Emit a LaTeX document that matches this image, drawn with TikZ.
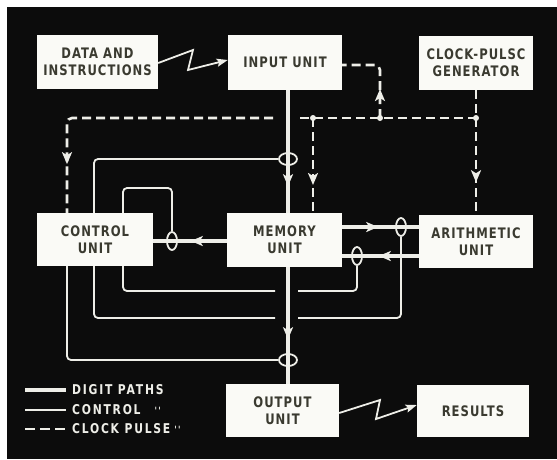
\documentclass[tikz,border=0pt]{standalone}
\usepackage{fontspec}
\newfontfamily\lbl{DejaVu Sans}[FakeStretch=0.8,LetterSpace=7]
\newfontfamily\lgd{DejaVu Sans}[FakeStretch=0.8,LetterSpace=13]
\usetikzlibrary{arrows.meta,decorations.markings,shapes.geometric}
\definecolor{bg}{RGB}{12,12,12}
\definecolor{ink}{RGB}{58,58,48}
\definecolor{paper}{RGB}{250,250,246}
\definecolor{wl}{RGB}{238,238,232}
\tikzset{
  unit/.style={fill=paper,text=ink,font=\lbl\bfseries\fontsize{14.5}{17}\selectfont,align=center,inner sep=0pt},
  digit/.style={draw=wl,line width=3.2pt},
  ctrl/.style={draw=wl,line width=1.8pt,rounded corners=4pt},
  clock/.style={draw=wl,line width=2.6pt,dash pattern=on 9pt off 5pt,rounded corners=5pt},
  loopc/.style={draw=wl,line width=1.8pt},
  tip/.style={postaction={decorate},decoration={markings,mark=at position #1 with {\arrow[wl]{Stealth[length=12pt,width=10pt,inset=3pt]}}}},
  legtext/.style={anchor=west,text=wl,font=\lgd\bfseries\fontsize{13.5}{15}\selectfont,inner sep=0pt},
  dot/.style={fill=wl,circle,inner sep=0pt,minimum size=6pt}
}
\begin{document}
\begin{tikzpicture}[x=1pt,y=-1pt]
\useasboundingbox (0,0) rectangle (557,459);
\fill[white] (0,0) rectangle (557,459);
\fill[bg] (7,7) rectangle (557,459);

% units
\node[unit,minimum width=121pt,minimum height=54pt] (data) at (97.5,62) {DATA AND\\INSTRUCTIONS};
\node[unit,minimum width=114pt,minimum height=55pt] (input) at (285,62.5) {INPUT UNIT};
\node[unit,minimum width=114pt,minimum height=54pt] (clock) at (476,63) {CLOCK-PULSC\\GENERATOR};
\node[unit,minimum width=116pt,minimum height=53pt] (control) at (95,239.5) {CONTROL\\UNIT};
\node[unit,minimum width=115pt,minimum height=54pt] (memory) at (284.5,240) {MEMORY\\UNIT};
\node[unit,minimum width=114pt,minimum height=53pt] (arith) at (476,241.5) {ARITHMETIC\\UNIT};
\node[unit,minimum width=113pt,minimum height=53pt] (output) at (282.5,410.5) {OUTPUT\\UNIT};
\node[unit,minimum width=112pt,minimum height=52pt] (results) at (473,411) {RESULTS};

% reference coordinates
\coordinate (dp) at (288,0);
\coordinate (j1) at (313,118);
\coordinate (j2) at (380,118);
\coordinate (j3) at (476,118);
\coordinate (cl) at (273,118);
\coordinate (cr) at (300,118);
\coordinate (ic) at (380,65);

% loops
\node[loopc,ellipse,minimum width=18pt,minimum height=12pt,inner sep=0pt] (L1) at (288,159) {};
\node[loopc,ellipse,minimum width=10pt,minimum height=18pt,inner sep=0pt] (L2) at (172,241) {};
\node[loopc,ellipse,minimum width=10pt,minimum height=18pt,inner sep=0pt] (L3) at (357,256) {};
\node[loopc,ellipse,minimum width=10pt,minimum height=18pt,inner sep=0pt] (L4) at (401,227) {};
\node[loopc,ellipse,minimum width=18pt,minimum height=12pt,inner sep=0pt] (L5) at (288,360) {};

% digit paths
\draw[digit,tip=96pt] (input.south -| dp) -- (memory.north -| dp);
\draw[digit,tip=72pt] (memory.south -| dp) -- (output.north -| dp);
\draw[digit,tip=36pt] (memory.east |- L4) -- (arith.west |- L4);
\draw[digit,tip=40pt] (arith.west |- L3) -- (memory.east |- L3);
\draw[digit,tip=36pt] (memory.west |- L2) -- (control.east |- L2);

% clock pulse paths
\draw[clock,tip=250pt] (cl) -- (67,118) -- (control.north -| 67,0);
\draw[clock] (cr) -- (j3);
\draw[clock,tip=92pt] (clock.south) -- (arith.north -| clock.south);
\draw[clock,tip=67pt] (j1) -- (memory.north -| j1);
\draw[clock,tip=29pt] (j2) -- (ic) -- (input.east |- ic);
\node[dot] at (j1) {};
\node[dot] at (j2) {};
\node[dot] at (j3) {};

% control paths
\draw[ctrl] (control.north -| 94,0) -- (94,159) -- (L1.west);
\draw[ctrl] (control.north -| 123,0) -- (123,188) -- (172,188) -- (L2.north);
\draw[ctrl] (control.south -| 123,0) -- (123,291) -- (275,291);
\draw[ctrl] (298,291) -- (357,291) -- (L3.south);
\draw[ctrl] (control.south -| 94,0) -- (94,318) -- (275,318);
\draw[ctrl] (298,318) -- (401,318) -- (L4.south);
\draw[ctrl] (control.south -| 67,0) -- (67,360) -- (L5.west);

% zigzag transfers
\draw[draw=wl,line width=1.8pt,-{Stealth[length=11pt,width=8pt,inset=2pt]}] (data.east |- 0,63) -- (193,50) -- (188,70) -- (input.west |- 0,60);
\draw[draw=wl,line width=1.8pt,-{Stealth[length=11pt,width=8pt,inset=2pt]}] (output.east |- 0,413) -- (380,400) -- (376,419) -- (results.west |- 0,405);

% legend
\coordinate (g1) at (25,390);
\coordinate (g2) at (25,410);
\coordinate (g3) at (25,429);
\draw[digit] (g1) -- ++(41,0);
\draw[ctrl] (g2) -- ++(41,0);
\draw[draw=wl,line width=2.6pt,dash pattern=on 10pt off 5pt] (g3) -- ++(41,0);
\node[legtext] at (72,390) {DIGIT PATHS};
\node[legtext] at (72,410) {CONTROL\hspace{14pt}{\fontsize{10}{10}\selectfont''}};
\node[legtext] at (72,429) {CLOCK PULSE\hspace{4pt}{\fontsize{10}{10}\selectfont''}};
\end{tikzpicture}
\end{document}
